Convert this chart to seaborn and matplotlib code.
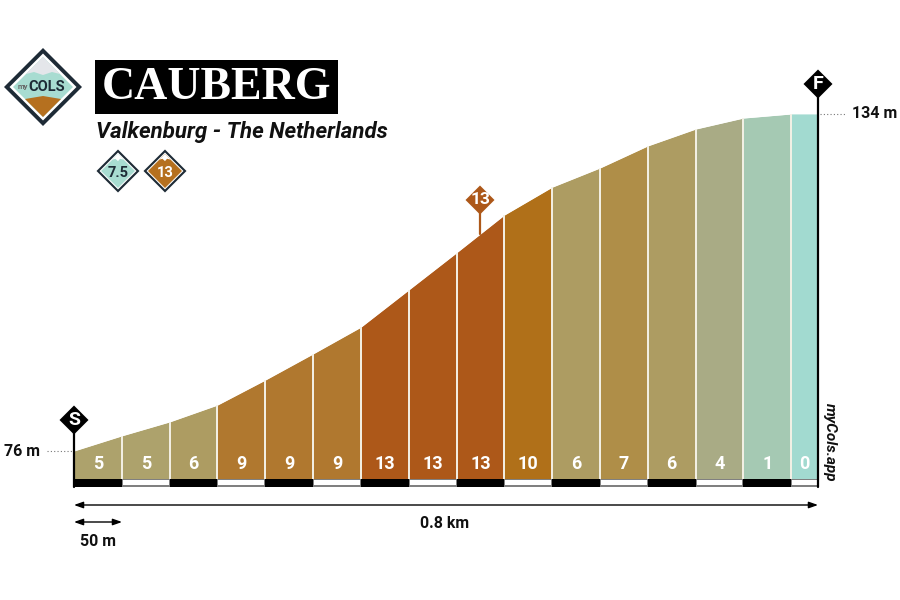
import matplotlib
matplotlib.use("Agg")
import matplotlib.pyplot as plt
import seaborn as sns
import pandas as pd
from matplotlib.patches import Polygon, Rectangle

# Profile
distance_m = [0, 50, 100, 150, 200, 250, 300, 350, 400, 450, 500, 550, 600, 650, 700, 750, 778]
elevation_m = [76, 78.6, 81, 83.9, 88.2, 92.7, 97.3, 103.7, 110.1, 116.6, 121.4, 124.7, 128.5, 131.4, 133.3, 134, 134]
gradients = [5, 5, 6, 9, 9, 9, 13, 13, 13, 10, 6, 7, 6, 4, 1, 0]
grad_colors = ["#ADA26C", "#ADA26C", "#AD9C62", "#B0782F", "#B0782F", "#B0782F",
               "#AD5819", "#AD5819", "#AD5819", "#B07019", "#AD9C62", "#AF8E48",
               "#AD9C62", "#A9AB85", "#A5C9B3", "#A2DAD0"]

title = "CAUBERG"
subtitle = "Valkenburg - The Netherlands"
start_label = "76 m"
end_label = "134 m"
total_label = "0.8 km"
step_label = "50 m"
credit = "myCols.app"
badges = ["7.5", "13"]

sns.set_theme(style="white")
NARROW = ["Roboto", "DejaVu Sans"]
plt.rcParams["font.family"] = NARROW
DARK = "#1E2B36"
TEAL = "#A8DCD1"
BROWN = "#B5701F"
INK = "#111111"

fig = plt.figure(figsize=(9, 6), dpi=100)

# main axes sit exactly on the profile area: x 74-818 px, y 114-479 px
ax = fig.add_axes([74 / 900, 1 - 479 / 600, (818 - 74) / 900, (479 - 114) / 600])
base = 76 - (479 - 451) / 5.81
ax.set_xlim(0, distance_m[-1])
ax.set_ylim(base, 134)
ax.axis("off")

df = pd.DataFrame({"distance": distance_m, "elevation": elevation_m})

# segments
for i, col in enumerate(grad_colors):
    ax.fill_between(distance_m[i:i + 2], elevation_m[i:i + 2], base, color=col, lw=0, zorder=1)
sns.lineplot(data=df, x="distance", y="elevation", ax=ax, color="white", lw=0.6, zorder=2)
ax.set_xlabel("")
ax.set_ylabel("")
ax.vlines(distance_m[1:-1], base, elevation_m[1:-1], color="#F4F1E6", lw=1.4, zorder=3)

# gradient numbers
for i, g in enumerate(gradients):
    mid = (distance_m[i] + distance_m[i + 1]) / 2
    ax.text(mid, base + 15 / 5.81, str(g), color="white", ha="center", va="center",
            fontsize=13, fontweight="bold", zorder=4)

# scale strip below the profile
px = 1 / 5.81
ax.bar(distance_m[:-1], [-8 * px] * 16, bottom=base,
       width=[distance_m[i + 1] - distance_m[i] for i in range(16)], align="edge",
       color=["black" if i % 2 == 0 else "#808080" for i in range(16)], lw=0, clip_on=False, zorder=2)
for i in range(1, 16, 2):
    ax.bar(distance_m[i] + 1, -5.5 * px, bottom=base - 0.7 * px,
           width=distance_m[i + 1] - distance_m[i] - 2, align="edge",
           color="white", lw=0, clip_on=False, zorder=3)

# overlay in pixel coordinates for the furniture
ov = fig.add_axes([0, 0, 1, 1], facecolor="none")
ov.set_xlim(0, 900)
ov.set_ylim(600, 0)
ov.axis("off")


def diamond(cx, cy, r, color, z=5):
    ov.add_patch(Polygon([(cx - r, cy), (cx, cy - r), (cx + r, cy), (cx, cy + r)],
                         closed=True, color=color, lw=0, zorder=z))


def marker(cx, cy, label, color, size):
    diamond(cx, cy, 14.5, color)
    ov.text(cx, cy, label, color="white", ha="center", va="center", fontsize=size,
            fontweight="bold", zorder=6)


def mountain_badge(cx, cy, r, fill, top_fill, label, label_color):
    diamond(cx, cy, r, DARK)
    diamond(cx, cy, r - 3, "white", 6)
    diamond(cx, cy, r - 4.5, fill, 7)
    s = r - 4.5
    ov.add_patch(Polygon([(cx - s * 0.33, cy - s * 0.67), (cx, cy - s), (cx + s * 0.33, cy - s * 0.67),
                          (cx + s * 0.12, cy - s * 0.72), (cx, cy - s * 0.58), (cx - s * 0.15, cy - s * 0.72)],
                         closed=True, color=top_fill, lw=0, zorder=8))
    ov.text(cx, cy + 2, label, color=label_color, ha="center", va="center", fontsize=10.5,
            fontweight="bold", zorder=9)


# start / finish poles
ov.plot([74, 74], [420, 487], color="black", lw=1.6, zorder=4)
ov.plot([818, 818], [84, 487], color="black", lw=1.6, zorder=4)
ov.plot([480, 480], [200, 234], color="#AD5819", lw=1.6, zorder=4)
marker(74, 420, "S", "black", 14)
marker(818, 84, "F", "black", 14)
marker(480, 200, "13", "#AD5819", 12.5)

# elevation labels with dotted leaders
ov.plot([47, 72], [451, 451], color="#777777", lw=0.8, ls=(0, (1, 2)))
ov.plot([820, 846], [114, 114], color="#777777", lw=0.8, ls=(0, (1, 2)))
ov.text(40, 451, start_label, ha="right", va="center", fontsize=11.5, fontweight="bold", color=INK)
ov.text(852, 114, end_label, ha="left", va="center", fontsize=11.5, fontweight="bold", color=INK)
ov.text(830, 442, credit, rotation=270, ha="center", va="center", fontsize=11, fontweight="bold",
        fontstyle="italic", color=INK)

# distance arrows
for x0, x1, y in [(74, 818, 505), (74, 122, 522)]:
    ov.annotate("", xy=(x1, y), xytext=(x0, y),
                arrowprops=dict(arrowstyle="<|-|>,head_length=0.45,head_width=0.16", color="black",
                                lw=1, shrinkA=0, shrinkB=0))
ov.text(445, 524, total_label, ha="center", va="center", fontsize=11.5, fontweight="bold", color=INK)
ov.text(98, 541, step_label, ha="center", va="center", fontsize=11.5, fontweight="bold", color=INK)

# header
ov.add_patch(Rectangle((95, 60), 243, 54, color="black", lw=0))
ov.text(216.5, 88, title, color="white", ha="center", va="center", fontsize=33, fontweight="bold",
        family=["Liberation Serif", "DejaVu Serif"], zorder=3)
ov.text(96, 132, subtitle, ha="left", va="center", fontsize=16, fontweight="bold", fontstyle="italic",
        color=INK)
mountain_badge(118, 171, 21.5, TEAL, "white", badges[0], DARK)
mountain_badge(165, 171, 21.5, BROWN, "white", badges[1], "white")

# logo
diamond(43, 87, 39, DARK)
diamond(43, 87, 33.5, "white", 6)
diamond(43, 87, 30, TEAL, 7)
ov.add_patch(Polygon([(43, 57), (60, 74), (52, 72), (43, 75), (34, 72), (26, 74)],
                     closed=True, color="#E4E6EA", lw=0, zorder=8))
ov.add_patch(Polygon([(25, 99), (43, 96), (61, 99), (43, 117)], closed=True, color=BROWN, lw=0, zorder=8))
ov.text(23, 87, "my", color="#666666", ha="center", va="center", fontsize=5.5, fontweight="bold", zorder=9)
ov.text(47, 87, "COLS", color=DARK, ha="center", va="center", fontsize=10.5, fontweight="bold", zorder=9)

fig.savefig("out.png", dpi=100)
